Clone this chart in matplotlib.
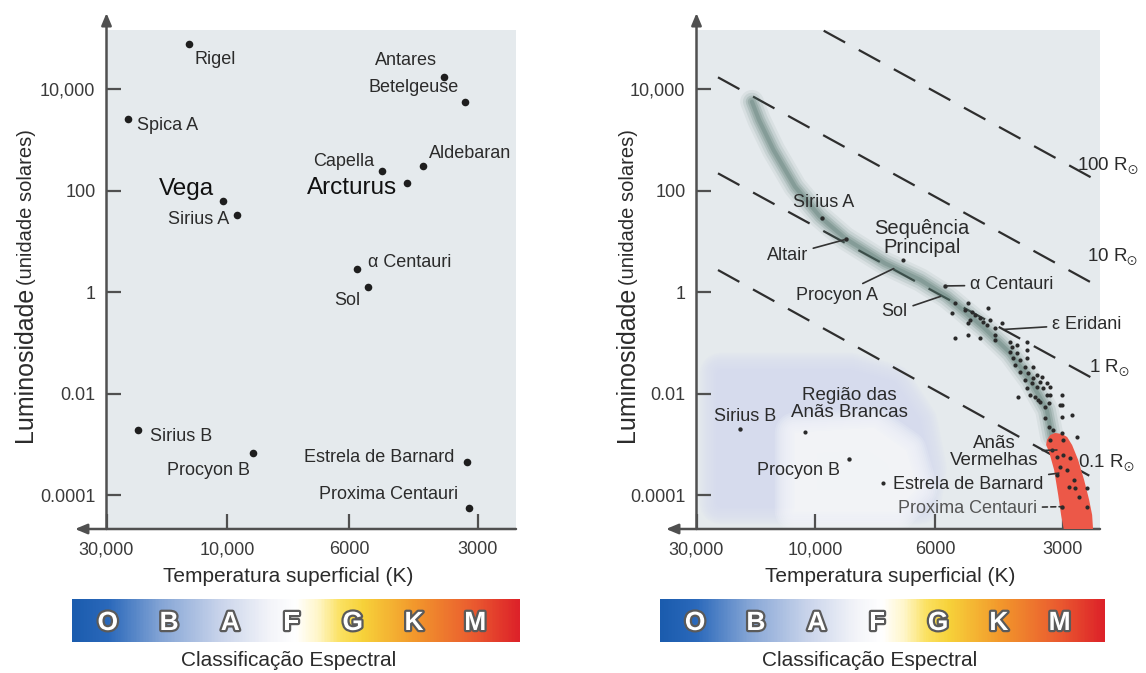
import numpy as np
import matplotlib
matplotlib.use('Agg')
import matplotlib.pyplot as plt
from matplotlib.colors import LinearSegmentedColormap
from matplotlib.patches import Polygon
import matplotlib.patheffects as pe

plt.rcParams['font.family'] = ['Liberation Sans', 'DejaVu Sans']
plt.rcParams['mathtext.fontset'] = 'custom'
plt.rcParams['mathtext.rm'] = 'Liberation Sans'
plt.rcParams['mathtext.fallback'] = 'stixsans'

# ---------------- data ----------------
tick_temps = [30000, 10000, 6000, 3000]
tick_temp_labels = ['30,000', '10,000', '6000', '3000']
tick_lums = [1e4, 1e2, 1, 1e-2, 1e-4]
tick_lum_labels = ['10,000', '100', '1', '0.01', '0.0001']
spectral_classes = ['O', 'B', 'A', 'F', 'G', 'K', 'M']

# left panel: named stars
left_names = ['Rigel', 'Antares', 'Betelgeuse', 'Spica A', 'Capella', 'Aldebaran',
              'Arcturus', 'Vega', 'Sirius A', 'α Centauri', 'Sol', 'Sirius B',
              'Procyon B', 'Estrela de Barnard', 'Proxima Centauri']
left_temp = [14150, 3594, 3214, 24660, 5015, 4035, 4398, 10340, 9605, 5762, 5415,
             22510, 8954, 3188, 3157]
left_lum = [77400, 17800, 5725, 2650, 250, 310, 141, 63.2, 33.5, 2.85, 1.26,
            0.00196, 6.76e-4, 4.61e-4, 5.73e-5]

# right panel: named stars
right_names = ['Sirius A', 'Altair', 'Procyon A', 'Sol', 'α Centauri', 'ε Eridani',
               'Sirius B', 'Procyon B', 'Estrela de Barnard', 'Proxima Centauri']
right_temp = [9728, 8782, 7128, 5800, 5692, 4148, 20050, 8651, 3039, 3011]
right_lum = [28.9, 11.1, 3.03, 0.85, 1.34, 0.186, 0.00201, 5.15e-4, 2.77e-4, 6.0e-5]

# right panel: other stars (unlabelled dots)
field_temp = [6879, 10985, 7506,
              5391, 5014, 5489, 5105, 4921, 4834, 4703, 4967, 4494, 4619, 4453, 4333,
              5014, 4534, 4178, 4333, 5391, 5014, 4703, 4333, 3993, 3957, 3850, 3645,
              3993, 3850, 3645, 3922, 3781, 3645, 3886, 3679, 3516, 3781, 3614, 3452,
              3516, 3358, 3679, 3547, 3389, 3268, 3452, 3645, 3329, 3209, 3816, 3484,
              3268, 3011, 3389, 3239, 3011, 3580, 3421, 3209, 3298, 3039, 3298, 3011,
              2851, 3239, 3152, 3011, 2774, 3209, 2985,
              3180, 3094, 2985, 2877, 3039, 2930, 3094, 2826, 2904, 2800, 2750, 2627, 2627]
field_lum = [4.35, 0.0018, 1.78e-4,
             0.61, 0.61, 0.388, 0.45, 0.417, 0.359, 0.309, 0.286, 0.486, 0.265, 0.286, 0.196,
             0.246, 0.228, 0.246, 0.145, 0.1247, 0.145, 0.1247, 0.1154, 0.1069, 0.0852, 0.092, 0.1069,
             0.0679, 0.0631, 0.0733, 0.0503, 0.0466, 0.0503, 0.0371, 0.0344, 0.0344, 0.0274, 0.0255, 0.0236,
             0.0203, 0.0218, 0.0188, 0.0162, 0.0174, 0.0162, 0.01387, 0.0129, 0.0129, 0.01387, 0.00881, 0.00881,
             0.00952, 0.00952, 0.00702, 0.00653, 0.00604, 0.00952, 0.00759, 0.00952, 0.00559, 0.00604, 0.00331, 0.00356,
             0.00384, 0.00226, 0.00194, 0.00167, 0.001434, 0.001235, 0.001235,
             7.85e-4, 5.79e-4, 6.25e-4, 5.38e-4, 3.68e-4, 3.17e-4, 2.52e-4, 2.01e-4, 1.48e-4, 1.38e-4, 9.4e-5, 1.38e-4, 6.0e-5]

# main sequence band (centre line)
ms_band_temp = [17960, 16820, 14710, 12060, 9797, 8810, 7439, 6393, 5640, 4627, 3993, 3580, 3268, 3180]
ms_band_lum = [5725, 2495, 640, 121, 31, 11.65, 3.75, 1.757, 0.823, 0.208, 0.064, 0.0188, 0.00482, 0.001434]

# red dwarf region outline
red_region_temp = [3268, 3209, 3124, 3007, 2926, 2848, 2755, 2667, 2595, 2553, 2539, 2975, 3024, 3072, 3141, 3228, 3281]
red_region_lum = [0.001235, 0.00155, 0.0017, 0.00162, 0.001415, 9.84e-4, 4.98e-4, 2.01e-4, 8.12e-5, 4.11e-5,
                  2.0e-5, 2.0e-5, 4.11e-5, 1.02e-4, 3.17e-4, 7.17e-4, 9.84e-4]

# white dwarf region outline
wd_region_temp = [24000, 8600, 7200, 6500, 6250, 6400, 24000]
wd_region_lum = [0.025, 0.025, 0.015, 0.0028, 3.5e-4, 7.0e-5, 7.0e-5]
wd_glow_temp = [12000, 7800, 6800, 6500, 7100, 12000]
wd_glow_lum = [0.0017, 0.0021, 7.5e-4, 1.4e-4, 5.0e-5, 5.0e-5]

# lines of constant radius (end points)
radius_labels = ['100 $\\mathrm{R}_{\\odot}$', '10 $\\mathrm{R}_{\\odot}$',
                 '1 $\\mathrm{R}_{\\odot}$', '0.1 $\\mathrm{R}_{\\odot}$']
radius_temp = [(9647, 2553), (24590, 2546), (24590, 2546), (24590, 2546)]
radius_lum = [(1.435e5, 179.6), (17300, 1.51), (222, 0.0203), (2.76, 2.25e-4)]

# ---------------- scale (tick marks are evenly spread) ----------------
U = -np.log10(np.array(tick_temps, float))
P = np.array([0.0, 120.5, 242.5, 371.5])
s_lo = (P[1] - P[0]) / (U[1] - U[0])
s_hi = (P[3] - P[2]) / (U[3] - U[2])


def t2p(T):
    T = np.asarray(T, float)
    with np.errstate(divide='ignore', invalid='ignore'):
        u = -np.log10(np.where(T > 0, T, np.nan))
    p = np.interp(u, U, P)
    p = np.where(u < U[0], P[0] + (u - U[0]) * s_lo, p)
    p = np.where(u > U[-1], P[-1] + (u - U[-1]) * s_hi, p)
    return p


def p2t(p):
    p = np.asarray(p, float)
    u = np.interp(p, P, U)
    u = np.where(p < P[0], U[0] + (p - P[0]) / s_lo, u)
    u = np.where(p > P[-1], U[-1] + (p - P[-1]) / s_hi, u)
    return 10 ** (-u)


def fwd(T):          # increasing in T
    return -t2p(T)


def inv(q):
    return p2t(-np.asarray(q, float))


W, H = 1146, 673
fig = plt.figure(figsize=(W / 100, H / 100), dpi=100)
BG = '#e5eaed'
AX = '#505050'
TXT = '#2b2b2b'

spec_cmap = LinearSegmentedColormap.from_list('spec', [
    (0.0, '#1b5cae'), (0.08, '#2b69bb'), (0.2, '#86a6d6'), (0.33, '#c9d4eb'),
    (0.44, '#f3f4f9'), (0.5, '#ffffff'), (0.55, '#fff6c8'), (0.6, '#fbe160'),
    (0.65, '#f7d23a'), (0.77, '#f2962c'), (0.9, '#ea5a30'), (1.0, '#dd2229')])


def setup_axes(left_px, width_px, arrow_left):
    ax = fig.add_axes([left_px / W, 1 - 529 / H, width_px / W, 499 / H])
    ax.set_facecolor(BG)
    ax.set_xscale('function', functions=(fwd, inv))
    ax.set_yscale('log')
    ax.set_xlim(30000, float(p2t(409.5)))
    ax.set_ylim(10 ** -4.662, 10 ** 5.1705)
    ax.set_xticks(tick_temps, tick_temp_labels)
    ax.set_yticks(tick_lums, tick_lum_labels)
    ax.minorticks_off()
    for s in ax.spines.values():
        s.set_visible(False)
    ax.tick_params(axis='both', direction='in', width=1.6, color=AX,
                   labelsize=13, labelcolor='#3a3a3a')
    ax.tick_params(axis='x', length=11, pad=9)
    ax.tick_params(axis='y', length=10, pad=8)
    ap = dict(arrowstyle='-|>,head_length=0.6,head_width=0.25', color=AX, lw=1.8,
              shrinkA=0, shrinkB=0, mutation_scale=12)
    ax.annotate('', xy=(0, 1.034), xytext=(0, 0), xycoords='axes fraction',
                arrowprops=ap, annotation_clip=False)
    ax.annotate('', xy=(arrow_left, 0), xytext=(1, 0), xycoords='axes fraction',
                arrowprops=ap, annotation_clip=False)
    return ax


def spectral_bar(left_px, width_px, label_x):
    cax = fig.add_axes([left_px / W, 1 - 641.7 / H, width_px / W, 42.4 / H])
    cax.imshow(np.linspace(0, 1, 400)[None, :], cmap=spec_cmap, aspect='auto',
               extent=(0, 1, 0, 1))
    cax.set_axis_off()
    n = len(spectral_classes)
    for i, c in enumerate(spectral_classes):
        cax.text(0.08 + i * 0.82 / (n - 1), 0.5, c, ha='center', va='center_baseline',
                 fontsize=19, fontweight='bold', color='white',
                 path_effects=[pe.withStroke(linewidth=3.2, foreground='#5a5a5a')])
    fig.text(label_x / W, 1 - 660 / H, 'Classificação Espectral', ha='center',
             va='center', fontsize=15, color=TXT)


def y_label(base_x):
    fig.text(base_x / W, 1 - 442 / H, 'Luminosidade', rotation=90, rotation_mode='anchor',
             ha='left', va='baseline', fontsize=18, color=TXT)
    fig.text(base_x / W, 1 - 285 / H, '(unidade solares)', rotation=90, rotation_mode='anchor',
             ha='left', va='baseline', fontsize=14.5, color=TXT)


def soft_patch(ax, temps, lums, color, z, peak):
    xy = np.column_stack([temps, lums])
    steps = 12
    a = 1 - (1 - peak) ** (1.0 / steps)
    for k in range(steps):
        lw = 30 * (1 - k / (steps - 1))
        ax.add_patch(Polygon(xy, closed=True, facecolor=color, edgecolor=color, lw=lw,
                             alpha=a, joinstyle='round', zorder=z))


# ================= left panel =================
axL = setup_axes(106.5, 409.5, -0.077)
axL.scatter(left_temp, left_lum, s=30, color='#1e1e1e', zorder=5, linewidths=0)
left_offsets = [(6, -15, 'left'), (-7, 16, 'right'), (-6, 14, 'right'), (9, -7, 'left'),
                (-8, 9, 'right'), (6, 12, 'left'), (-10, -5, 'right'), (-9, 12, 'right'),
                (-7, -4, 'right'), (11, 7, 'left'), (-8, -13, 'right'), (12, -7, 'left'),
                (-3, -17, 'right'), (-12, 4, 'right'), (-10, 13, 'right')]
big_names = ('Vega', 'Arcturus')
for name, t, l, (dx, dy, ha) in zip(left_names, left_temp, left_lum, left_offsets):
    big = name in big_names
    axL.annotate(name, (t, l), xytext=(dx, dy), textcoords='offset pixels',
                 ha=ha, va='center', fontsize=17.5 if big else 13,
                 color='#111111' if big else TXT, zorder=6)
fig.text(287.7 / W, 1 - 577 / H, 'Temperatura superficial (K)', ha='center', va='center',
         fontsize=15, color=TXT)
y_label(32)
spectral_bar(72, 448, 288.5)

# ================= right panel =================
axR = setup_axes(696.5, 403.5, -0.0756)

# white dwarf region (soft edges)
soft_patch(axR, wd_region_temp, wd_region_lum, '#d6dbef', 0.5, 0.85)
soft_patch(axR, wd_glow_temp, wd_glow_lum, '#f7f8fb', 0.6, 0.9)

# constant radius lines
for (t0, t1), (l0, l1) in zip(radius_temp, radius_lum):
    axR.plot([t0, t1], [l0, l1], color='#2e2e2e', lw=1.6, ls=(0, (11, 7)), zorder=2,
             clip_on=False)
radius_label_pos = [(0.943, 0.729), (0.968, 0.545), (0.973, 0.3226), (0.945, 0.134)]
for lab, (x, y) in zip(radius_labels, radius_label_pos):
    axR.text(x, y, lab, transform=axR.transAxes, ha='left', va='center', fontsize=13.5,
             color=TXT, zorder=6)

# main sequence band
for lw, a in [(17, 0.08), (13, 0.12), (9, 0.18), (6, 0.22), (3, 0.28)]:
    axR.plot(ms_band_temp, ms_band_lum, color='#4d7067', lw=lw, alpha=a,
             solid_capstyle='round', solid_joinstyle='round', zorder=3)

# red dwarf region
axR.add_patch(Polygon(np.column_stack([red_region_temp, red_region_lum]), closed=True,
                      facecolor='#ec5848', edgecolor='none', zorder=4,
                      joinstyle='round'))

# stars
axR.scatter(field_temp, field_lum, s=9, color='#2a2a2a', zorder=5, linewidths=0)
dot_flags = [True, True, False, False, True, False, True, True, False, True]
axR.scatter([t for t, f in zip(right_temp, dot_flags) if f],
            [l for l, f in zip(right_lum, dot_flags) if f],
            s=10, color='#2a2a2a', zorder=5, linewidths=0)

right_offsets = [(2, 16, 'center', None), (-38, -16, 'right', '-'), (-17, -28, 'right', '-'),
                 (-34, -16, 'right', '-'), (25, 1, 'left', '-'), (49, 5, 'left', '-'),
                 (5, 13, 'center', None), (-9, -11, 'right', None),
                 (-17, -12, 'right', '-'), (-25, -2, 'right', 'dash')]
for name, t, l, (dx, dy, ha, lead) in zip(right_names, right_temp, right_lum, right_offsets):
    ap = None
    if lead == '-':
        ap = dict(arrowstyle='-', color='#333333', lw=1.2, shrinkA=2, shrinkB=1)
    elif lead == 'dash':
        ap = dict(arrowstyle='-', color='#333333', lw=1.2, ls=(0, (3, 2)), shrinkA=2, shrinkB=1)
    col = '#555555' if name == 'Proxima Centauri' else TXT
    axR.annotate(name, (t, l), xytext=(dx, dy), textcoords='offset pixels', ha=ha,
                 va='center', fontsize=13, color=col, arrowprops=ap, zorder=6)

axR.text(0.378, 0.2505, 'Região das\nAnãs Brancas', transform=axR.transAxes, ha='center',
         va='center', fontsize=13.5, color=TXT, linespacing=0.95, zorder=6)
axR.text(0.559, 0.583, 'Sequência\nPrincipal', transform=axR.transAxes, ha='center',
         va='center', fontsize=14.5, color=TXT, linespacing=0.95, zorder=6)
axR.annotate('Anãs\nVermelhas', (3094, 7.85e-4), xytext=(0.737, 0.154),
             textcoords='axes fraction', ha='center', va='center', fontsize=13.5,
             color=TXT, linespacing=0.95, zorder=6,
             arrowprops=dict(arrowstyle='-', color='#333333', lw=1.2, shrinkA=1, shrinkB=0))

fig.text(890 / W, 1 - 577 / H, 'Temperatura superficial (K)', ha='center', va='center',
         fontsize=15, color=TXT)
y_label(634)
spectral_bar(659.6, 444.4, 869.5)

fig.savefig('out.png', dpi=100, facecolor='white')
